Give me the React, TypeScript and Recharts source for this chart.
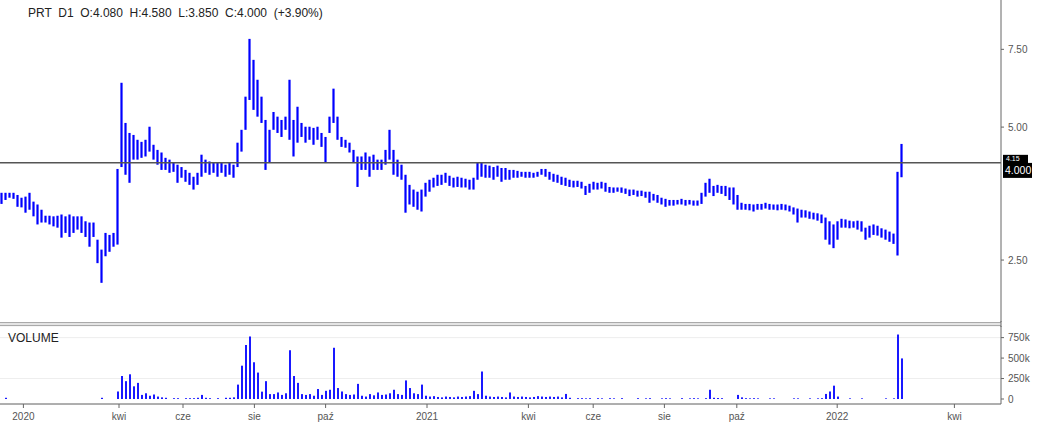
import { Bar, CartesianGrid, ComposedChart, ReferenceLine, XAxis, YAxis } from "recharts";

const BLUE = "#0000ff";
const AXIS = "#666";
const FONT = "Arial, 'Liberation Sans', sans-serif";

// PRT daily, grouped into short periods (high / low per period)
const priceHigh = [
  3.55, 3.55, 3.55, 3.55, 3.51, 3.46, 3.48, 3.55, 3.39, 3.34,
  3.25, 3.15, 3.15, 3.14, 3.15, 3.17, 3.14, 3.17, 3.14, 3.14,
  3.14, 3.06, 3.04, 3.04, 2.78, 2.64, 2.88, 2.85, 2.88, 4.02,
  6.3, 5.11, 4.85, 4.8, 4.68, 4.63, 4.68, 5.01, 4.56, 4.44,
  4.38, 4.26, 4.22, 4.15, 4.11, 4.06, 4.0, 3.94, 3.86, 3.94,
  4.33, 4.22, 4.18, 4.15, 4.15, 4.15, 4.11, 4.15, 4.11, 4.61,
  4.93, 5.86, 7.92, 7.1, 6.4, 5.86, 5.19, 4.93, 5.41, 5.28,
  5.19, 5.28, 6.4, 5.19, 5.56, 5.11, 5.01, 5.01, 4.98, 5.01,
  4.85, 4.75, 5.28, 6.11, 5.28, 4.75, 4.68, 4.61, 4.44, 4.29,
  4.29, 4.38, 4.29, 4.33, 4.22, 4.22, 4.44, 4.93, 4.44, 4.22,
  4.11, 3.9, 3.7, 3.61, 3.57, 3.61, 3.74, 3.8, 3.84, 3.9,
  3.9, 3.94, 3.88, 3.84, 3.86, 3.84, 3.82, 3.8, 3.84, 4.15,
  4.15, 4.11, 4.09, 4.06, 4.09, 4.04, 4.04, 4.0, 4.0, 3.98,
  3.96, 3.96, 3.96, 3.94, 3.96, 4.02, 4.02, 3.96, 3.92, 3.9,
  3.86, 3.84, 3.8, 3.78, 3.78, 3.76, 3.68, 3.72, 3.76, 3.74,
  3.76, 3.74, 3.66, 3.65, 3.65, 3.65, 3.63, 3.61, 3.61, 3.59,
  3.59, 3.57, 3.57, 3.53, 3.51, 3.46, 3.44, 3.42, 3.42, 3.42,
  3.44, 3.42, 3.42, 3.41, 3.41, 3.55, 3.74, 3.82, 3.68, 3.7,
  3.68, 3.68, 3.65, 3.65, 3.51, 3.37, 3.35, 3.35, 3.34, 3.35,
  3.35, 3.37, 3.35, 3.34, 3.34, 3.35, 3.34, 3.32, 3.29, 3.27,
  3.25, 3.24, 3.22, 3.2, 3.19, 3.17, 3.12, 3.06, 3.01, 3.06,
  3.1, 3.09, 3.07, 3.06, 3.07, 3.06, 2.96, 2.99, 3.01, 2.99,
  2.95, 2.93, 2.9, 2.87, 3.96, 4.58,
];

const priceLow = [
  3.35, 3.42, 3.46, 3.44, 3.3, 3.29, 3.2, 3.25, 3.14, 3.01,
  3.04, 3.04, 3.01, 2.98, 2.96, 2.81, 2.88, 2.82, 2.88, 2.93,
  2.88, 2.82, 2.68, 2.82, 2.46, 2.22, 2.55, 2.61, 2.68, 2.71,
  4.06, 3.9, 3.74, 4.22, 4.22, 4.26, 4.29, 4.4, 4.22, 4.11,
  4.0, 4.0, 3.94, 3.96, 3.74, 3.84, 3.76, 3.7, 3.61, 3.7,
  3.86, 3.94, 3.9, 3.94, 3.86, 3.94, 3.86, 3.9, 3.84, 4.06,
  4.4, 4.93, 5.76, 5.47, 5.28, 5.11, 4.0, 4.15, 4.93, 4.85,
  4.75, 4.93, 4.68, 4.29, 4.61, 4.75, 4.61, 4.68, 4.56, 4.68,
  4.51, 4.15, 4.85, 5.11, 4.68, 4.51, 4.49, 4.38, 4.15, 3.66,
  4.0, 4.0, 3.86, 4.0, 4.0, 4.0, 4.11, 4.22, 3.9, 3.86,
  3.8, 3.2, 3.34, 3.3, 3.25, 3.22, 3.48, 3.57, 3.65, 3.68,
  3.7, 3.74, 3.68, 3.65, 3.66, 3.65, 3.65, 3.61, 3.61, 3.8,
  3.86, 3.84, 3.84, 3.8, 3.86, 3.76, 3.8, 3.8, 3.84, 3.84,
  3.86, 3.84, 3.84, 3.84, 3.86, 3.9, 3.86, 3.8, 3.76, 3.74,
  3.7, 3.68, 3.66, 3.65, 3.66, 3.63, 3.51, 3.55, 3.61, 3.61,
  3.63, 3.57, 3.55, 3.55, 3.57, 3.55, 3.53, 3.49, 3.51, 3.48,
  3.49, 3.46, 3.37, 3.41, 3.37, 3.34, 3.3, 3.32, 3.32, 3.34,
  3.34, 3.32, 3.34, 3.32, 3.32, 3.35, 3.48, 3.55, 3.49, 3.55,
  3.53, 3.49, 3.42, 3.34, 3.25, 3.25, 3.25, 3.24, 3.22, 3.25,
  3.25, 3.27, 3.25, 3.25, 3.24, 3.25, 3.24, 3.22, 3.17, 3.04,
  3.12, 3.12, 3.1, 3.09, 3.07, 3.03, 2.78, 2.71, 2.66, 2.78,
  2.96, 2.96, 2.95, 2.96, 2.93, 2.9, 2.78, 2.81, 2.85, 2.84,
  2.81, 2.78, 2.75, 2.72, 2.56, 3.85,
];

// volume in thousands of shares per period
const volumeK = [
  0, 15, 0, 0, 0, 0, 0, 0, 0, 0,
  0, 0, 0, 0, 0, 0, 0, 0, 0, 0,
  0, 0, 0, 0, 0, 15, 0, 0, 0, 92,
  281, 218, 302, 155, 197, 50, 70, 40, 55, 30,
  20, 15, 0, 10, 10, 0, 10, 10, 10, 15,
  50, 15, 10, 0, 10, 0, 15, 15, 20, 176,
  407, 660, 764, 449, 323, 90, 218, 60, 60, 80,
  50, 70, 596, 281, 197, 60, 50, 60, 40, 122,
  50, 100, 113, 626, 134, 92, 60, 50, 55, 185,
  40, 30, 60, 45, 80, 50, 55, 70, 113, 60,
  50, 227, 134, 70, 60, 176, 40, 30, 35, 25,
  20, 30, 25, 20, 30, 25, 30, 35, 100, 60,
  336, 40, 30, 25, 30, 25, 20, 80, 30, 25,
  30, 25, 20, 25, 35, 30, 25, 30, 25, 30,
  20, 62, 15, 0, 10, 10, 8, 10, 0, 10,
  8, 0, 10, 8, 0, 10, 0, 0, 0, 10,
  0, 8, 10, 0, 0, 8, 10, 8, 0, 0,
  10, 0, 8, 10, 8, 0, 10, 113, 15, 12,
  10, 0, 0, 0, 50, 20, 10, 8, 10, 8,
  0, 0, 8, 8, 0, 0, 0, 0, 8, 8,
  0, 0, 8, 0, 8, 10, 62, 92, 163, 30,
  0, 0, 8, 0, 0, 8, 0, 0, 0, 0,
  0, 8, 0, 8, 788, 496,
];

// month ticks, in period units
const monthTicks = [5.35, 29.25, 45.25, 63.1, 80.9, 106.25, 131.6, 147.8, 165.6, 183.7, 208.8, 238.1];
const monthLabels = ["2020", "kwi", "cze", "sie", "paź", "2021", "kwi", "cze", "sie", "paź", "2022", "kwi"];

const priceTicks = [2.5, 5, 7.5];
const volumeTicks = [0, 250000, 500000, 750000];
const lastClose = 4.0;
const lineLevel = 4.15;

const data = priceHigh.map((h, i) => ({
  i,
  range: [priceLow[i], h],
  volume: volumeK[i] * 1000,
}));

const xDomain = [-0.5, 249.75];

const PriceBar = (p: any) => {
  const { x, y, width, height } = p;
  if (x == null || y == null) return null;
  const top = Math.min(y, y + height);
  return <rect x={x + width / 2 - 1.1} y={top} width={2.2} height={Math.max(Math.abs(height), 1)} fill={BLUE} />;
};

const VolBar = (p: any) => {
  const { x, y, width, height } = p;
  if (!height) return null;
  return <rect x={x + width / 2 - 0.9} y={Math.min(y, y + height)} width={1.8} height={Math.abs(height)} fill={BLUE} />;
};

// black price tag on the right axis; the small one only peeks out above the close tag
const PriceTag = ({ viewBox, text, small }: any) => {
  if (!viewBox) return null;
  const left = viewBox.x + viewBox.width + 2;
  if (small) {
    return (
      <g>
        <rect x={left} y={viewBox.y - 8} width={25} height={10} fill="#000" />
        <text x={left + 3} y={viewBox.y - 1.5} fill="#fff" fontSize={7} fontFamily={FONT}>
          {text}
        </text>
      </g>
    );
  }
  return (
    <g>
      <rect x={left} y={viewBox.y - 7} width={29} height={15} fill="#000" />
      <text x={left + 2} y={viewBox.y + 4} fill="#fff" fontSize={10.5} fontFamily={FONT}>
        {text}
      </text>
    </g>
  );
};

const tickStyle = { fill: "#555", fontSize: 10, fontFamily: FONT };

export default function App() {
  return (
    <div style={{ position: "absolute", left: 0, top: 0, width: 1062, height: 434, background: "#fff", overflow: "hidden" }}>
      <div style={{ position: "absolute", left: 0, top: 0 }}>
        <ComposedChart width={1062} height={322} data={data} margin={{ top: 0, right: 0, bottom: 0, left: 0 }}>
          <XAxis dataKey="i" type="number" domain={xDomain} hide allowDataOverflow />
          <YAxis
            orientation="right"
            width={61}
            scale="log"
            type="number"
            domain={[1.81, 9.7]}
            allowDataOverflow
            ticks={priceTicks}
            tickFormatter={(v: number) => v.toFixed(2)}
            axisLine={{ stroke: AXIS }}
            tickLine={{ stroke: AXIS }}
            tickSize={3}
            tickMargin={4}
            tick={tickStyle}
          />
          <Bar dataKey="range" shape={<PriceBar />} barSize={3} isAnimationActive={false} />
          <ReferenceLine y={lineLevel} stroke="#555" strokeWidth={1.5} label={<PriceTag text="4.15" small />} />
          <ReferenceLine y={lastClose} stroke="none" label={<PriceTag text="4.000" />} />
        </ComposedChart>
      </div>
      <div style={{ position: "absolute", left: 0, top: 326 }}>
        <ComposedChart width={1062} height={108} data={data} margin={{ top: 0, right: 0, bottom: 0, left: 0 }}>
          <CartesianGrid vertical={false} stroke="#eee" />
          <XAxis
            dataKey="i"
            type="number"
            domain={xDomain}
            allowDataOverflow
            ticks={monthTicks}
            interval={0}
            tickFormatter={(v: number) => monthLabels[monthTicks.indexOf(v)]}
            height={30}
            axisLine={{ stroke: AXIS }}
            tickLine={{ stroke: AXIS }}
            tickSize={4}
            tickMargin={5}
            tick={tickStyle}
          />
          <YAxis
            orientation="right"
            width={61}
            type="number"
            domain={[-61000, 892000]}
            allowDataOverflow
            ticks={volumeTicks}
            tickFormatter={(v: number) => (v === 0 ? "0" : `${v / 1000}k`)}
            axisLine={{ stroke: AXIS }}
            tickLine={{ stroke: AXIS }}
            tickSize={3}
            tickMargin={4}
            tick={tickStyle}
          />
          <Bar dataKey="volume" shape={<VolBar />} barSize={2} isAnimationActive={false} />
        </ComposedChart>
      </div>
      <svg width={1062} height={434} style={{ position: "absolute", left: 0, top: 0, pointerEvents: "none" }}>
        <text x={28} y={17} fontSize={12} fontFamily={FONT} fill="#222" xmlSpace="preserve" style={{ whiteSpace: "pre" }}>
          {"PRT  D1  O:4.080  H:4.580  L:3.850  C:4.000  (+3.90%)"}
        </text>
        <rect x={0} y={322} width={1001} height={4} fill="#e4e4e4" />
        <line x1={0} x2={1001} y1={322.5} y2={322.5} stroke="#aaa" />
        <line x1={0} x2={1001} y1={325.5} y2={325.5} stroke="#aaa" />
        <line x1={1001} x2={1001} y1={321} y2={327} stroke={AXIS} />
        <text x={8} y={342} fontSize={12} fontFamily={FONT} fill="#222">
          VOLUME
        </text>
      </svg>
    </div>
  );
}
